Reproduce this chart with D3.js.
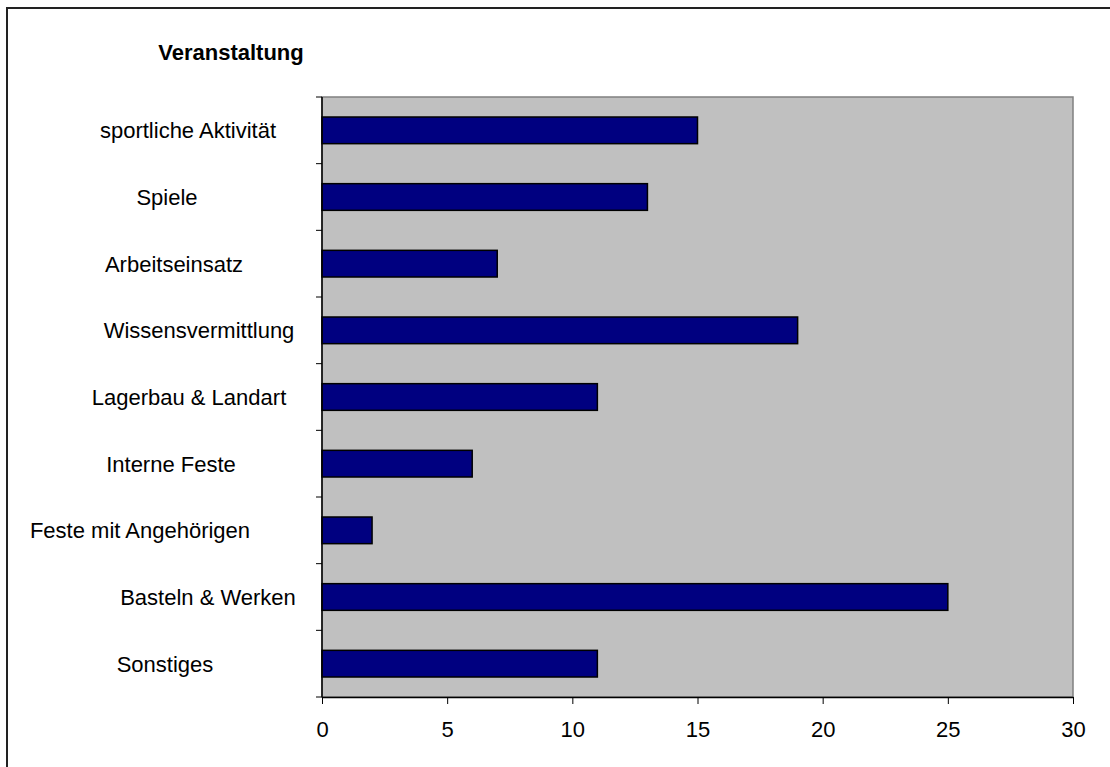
<!DOCTYPE html>
<html><head><meta charset="utf-8">
<script src="https://cdn.jsdelivr.net/npm/d3@7"></script>
<style>body{margin:0;background:#fff}svg{display:block}text{font-family:"Liberation Sans",Arial,sans-serif}</style>
</head><body>
<script>
const categories = ["sportliche Aktivität","Spiele","Arbeitseinsatz","Wissensvermittlung","Lagerbau & Landart","Interne Feste","Feste mit Angehörigen","Basteln & Werken","Sonstiges"];
const values = [15,13,7,19,11,6,2,25,11];
const xTicks = [0,5,10,15,20,25,30];
const title = "Veranstaltung";
// label centre x positions (layout)
const labelCenters = [188,167,174,199,189,171,140,208,165];

const W=1110,H=767;
const svg=d3.select("body").append("svg").attr("width",W).attr("height",H);
svg.append("path").attr("d",`M7,${H}V8H${W}`).attr("fill","none").attr("stroke","#222").attr("stroke-width",2);

const L=322,R=1073,T=97,B=697;
const x=d3.scaleLinear().domain([0,30]).range([L,R]);
const y=d3.scaleBand().domain(categories).range([T,B]).paddingInner(0.6).paddingOuter(0.3);

svg.append("rect").attr("x",L).attr("y",T).attr("width",R-L).attr("height",B-T).attr("fill","#c0c0c0").attr("stroke","#808080").attr("stroke-width",1.5);

svg.selectAll("rect.bar").data(values).join("rect").attr("class","bar")
 .attr("x",x(0)).attr("y",(d,i)=>y(categories[i]))
 .attr("width",d=>x(d)-x(0)).attr("height",y.bandwidth())
 .attr("fill","#000080").attr("stroke","#000").attr("stroke-width",1.5);

// x axis
const xa=svg.append("g").attr("transform",`translate(0,${B})`).call(d3.axisBottom(x).tickValues(xTicks).tickSize(7).tickSizeOuter(0));
xa.select(".domain").attr("stroke","#000").attr("stroke-width",1.5);
xa.selectAll(".tick line").attr("stroke","#000");
xa.selectAll(".tick text").attr("font-size",22).attr("fill","#000").attr("y",40).attr("dy",null).attr("font-family","Liberation Sans, Arial, sans-serif");

// y axis line + ticks at band boundaries
const bounds=d3.range(categories.length+1).map(i=>T+i*(B-T)/categories.length);
svg.append("line").attr("x1",L).attr("x2",L).attr("y1",T).attr("y2",B).attr("stroke","#000").attr("stroke-width",1.5);
svg.selectAll("line.yt").data(bounds).join("line").attr("class","yt")
 .attr("x1",L-6).attr("x2",L).attr("y1",d=>d).attr("y2",d=>d).attr("stroke","#000");

svg.selectAll("text.cat").data(categories).join("text").attr("class","cat")
 .attr("x",(d,i)=>labelCenters[i]).attr("y",d=>y(d)+y.bandwidth()/2).attr("dy","0.36em")
 .attr("text-anchor","middle").attr("font-size",22).text(d=>d);

svg.append("text").attr("x",231).attr("y",60).attr("text-anchor","middle")
 .attr("font-size",22).attr("font-weight","bold").text(title);
</script>
</body></html>
